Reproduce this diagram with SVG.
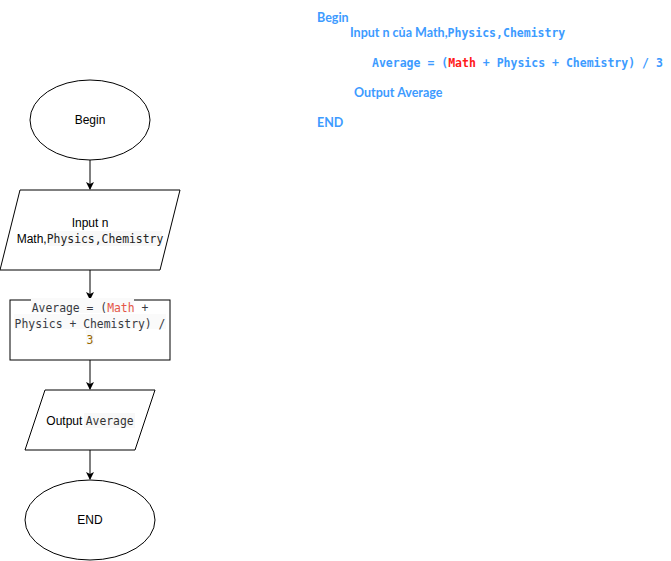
<svg xmlns="http://www.w3.org/2000/svg" width="671" height="561" viewBox="0 0 671 561">
<style>
.s{fill:#fff;stroke:#000;stroke-width:1}
.t{font-family:"Liberation Sans",Arial,sans-serif;font-size:12px;fill:#000}
.m{font-family:"DejaVu Sans Mono","Liberation Mono",monospace;font-size:11.4px}
.c{fill:none;stroke:#000;stroke-width:1}
.p{font-family:Lato,"Liberation Sans",sans-serif;font-weight:bold;font-size:12.5px;fill:#3d9bff}
.pm{font-family:"DejaVu Sans Mono","Liberation Mono",monospace;font-weight:bold;font-size:11.5px;fill:#3d9bff}
</style>
<defs>
<marker id="a" markerWidth="8" markerHeight="8" refX="7" refY="4" orient="auto" markerUnits="userSpaceOnUse">
<path d="M0,0 L8,4 L0,8 L2,4 Z" fill="#000"/>
</marker>
</defs>
<g id="connectors">
<line class="c" x1="90" y1="160" x2="90" y2="189" marker-end="url(#a)"/>
<line class="c" x1="90" y1="270" x2="90" y2="299" marker-end="url(#a)"/>
<line class="c" x1="90" y1="360" x2="90" y2="389" marker-end="url(#a)"/>
<line class="c" x1="90" y1="450" x2="90" y2="479" marker-end="url(#a)"/>
</g>
<g id="begin">
<ellipse class="s" cx="90" cy="120" rx="60" ry="40"/>
<text class="t" x="90" y="124" text-anchor="middle">Begin</text>
</g>
<g id="input">
<polygon class="s" points="20,190 180,190 160,270 0,270"/>
<text class="t" x="90" y="227" text-anchor="middle">Input n</text>
<rect x="48" y="231" width="114" height="15" fill="#f8f8f8"/>
<text x="90" y="243" text-anchor="middle"><tspan class="t">Math,</tspan><tspan class="m" fill="#222">Physics,Chemistry</tspan></text>
</g>
<g id="calc">
<rect class="s" x="10" y="300" width="160" height="60"/>
<rect x="31" y="298" width="103" height="15" fill="#fafafa"/>
<rect x="14" y="314" width="152" height="15" fill="#fafafa"/>
<rect x="86" y="330" width="8" height="15" fill="#fafafa"/>
<text class="m" x="90" y="312" text-anchor="middle" fill="#383a42"><tspan fill="#383a42">Average = (</tspan><tspan fill="#e45649">Math</tspan><tspan fill="#383a42"> +</tspan></text>
<text class="m" x="90" y="328" text-anchor="middle" fill="#383a42">Physics + Chemistry) /</text>
<text class="m" x="90" y="344" text-anchor="middle" fill="#986801">3</text>
</g>
<g id="output">
<polygon class="s" points="45,390 155,390 135,450 25,450"/>
<rect x="84" y="413" width="51" height="15" fill="#f8f8f8"/>
<text x="90" y="425" text-anchor="middle"><tspan class="t">Output </tspan><tspan class="m" fill="#333">Average</tspan></text>
</g>
<g id="end">
<ellipse class="s" cx="90" cy="520" rx="65" ry="40"/>
<text class="t" x="90" y="524" text-anchor="middle">END</text>
</g>
<g id="pseudocode">
<text class="p" x="317" y="22">Begin</text>
<text x="350" y="37"><tspan class="p">Input n của Math,</tspan><tspan class="pm">Physics,Chemistry</tspan></text>
<text class="pm" x="372" y="67">Average = (<tspan fill="#ff1a1a">Math</tspan> + Physics + Chemistry) / 3</text>
<text class="p" x="354" y="97">Output Average</text>
<text class="p" x="317" y="127">END</text>
</g>
</svg>
